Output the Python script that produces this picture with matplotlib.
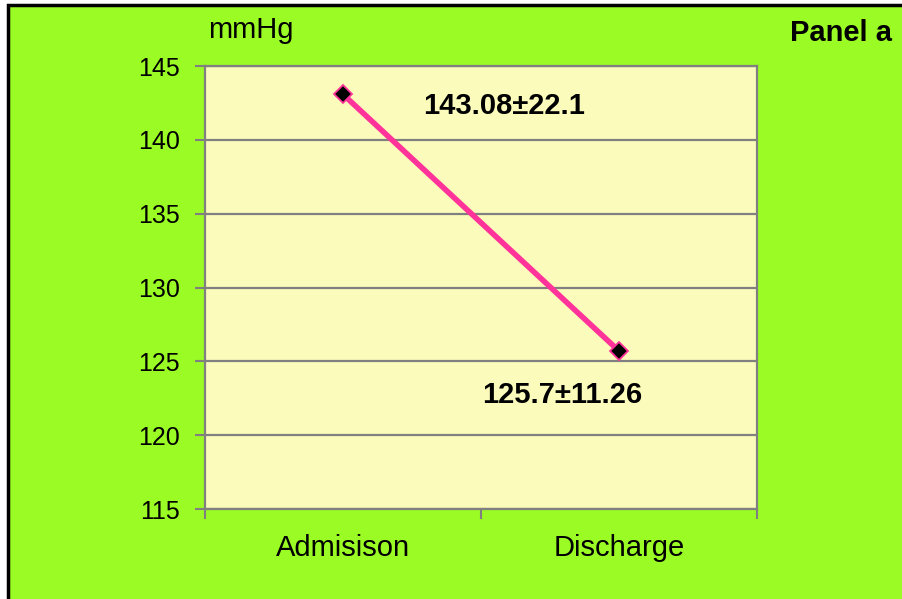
import matplotlib.pyplot as plt
from matplotlib.patches import Rectangle

# data
categories = ['Admisison', 'Discharge']
pressure = [143.08, 125.7]
labels = ['143.08\u00b122.1', '125.7\u00b111.26']
yticks = [115, 120, 125, 130, 135, 140, 145]

green = '#9bfb24'
pink = '#ff3399'
grey = '#808080'

plt.rcParams['font.family'] = ['Liberation Sans', 'DejaVu Sans']

fig = plt.figure(figsize=(9.02, 5.99), dpi=100)
fig.patch.set_facecolor('white')

# green panel with black frame on the left/top
fig.patches.append(Rectangle((8 / 902, -0.05), 1.05, 1.05 - 5 / 599, transform=fig.transFigure,
                             facecolor=green, edgecolor='black', linewidth=2.5, zorder=-10))

ax = fig.add_axes([205 / 902, 1 - 509 / 599, 552 / 902, 443 / 599])
ax.set_facecolor('#fbfbbb')

x = list(range(len(categories)))
ax.plot(x, pressure, color=pink, linewidth=4, marker='D', markersize=9,
        markerfacecolor='black', markeredgecolor=pink, markeredgewidth=1.3, zorder=3)

ax.set_xlim(-0.5, 1.5)
ax.set_ylim(115, 145)
ax.set_yticks(yticks)
ax.tick_params(axis='y', labelsize=18, length=7, width=1.5, color=grey, pad=11)
ax.set_xticks(x)
ax.set_xticklabels(categories)
ax.tick_params(axis='x', which='major', labelsize=21, length=0, pad=18)
ax.set_xticks([-0.5, 0.5, 1.5], minor=True)
ax.tick_params(axis='x', which='minor', length=7, width=1.5, color=grey)

ax.yaxis.grid(True, color=grey, linewidth=1.6)
ax.set_axisbelow(True)
for s in ax.spines.values():
    s.set_color(grey)
    s.set_linewidth(1.6)

# value labels
offsets = [(116, -8.6), (-41, -32)]
for xi, yi, lab, off in zip(x, pressure, labels, offsets):
    ax.annotate(lab, (xi, yi), xytext=off, textcoords='offset points',
                ha='center', va='center', fontsize=21, fontweight='bold')

fig.text(251 / 902, 1 - 30 / 599, 'mmHg', ha='center', va='center', fontsize=21)
fig.text(892 / 902, 1 - 33 / 599, 'Panel a', ha='right', va='center', fontsize=21, fontweight='bold')

fig.savefig('out.png', dpi=100, facecolor=fig.get_facecolor())
